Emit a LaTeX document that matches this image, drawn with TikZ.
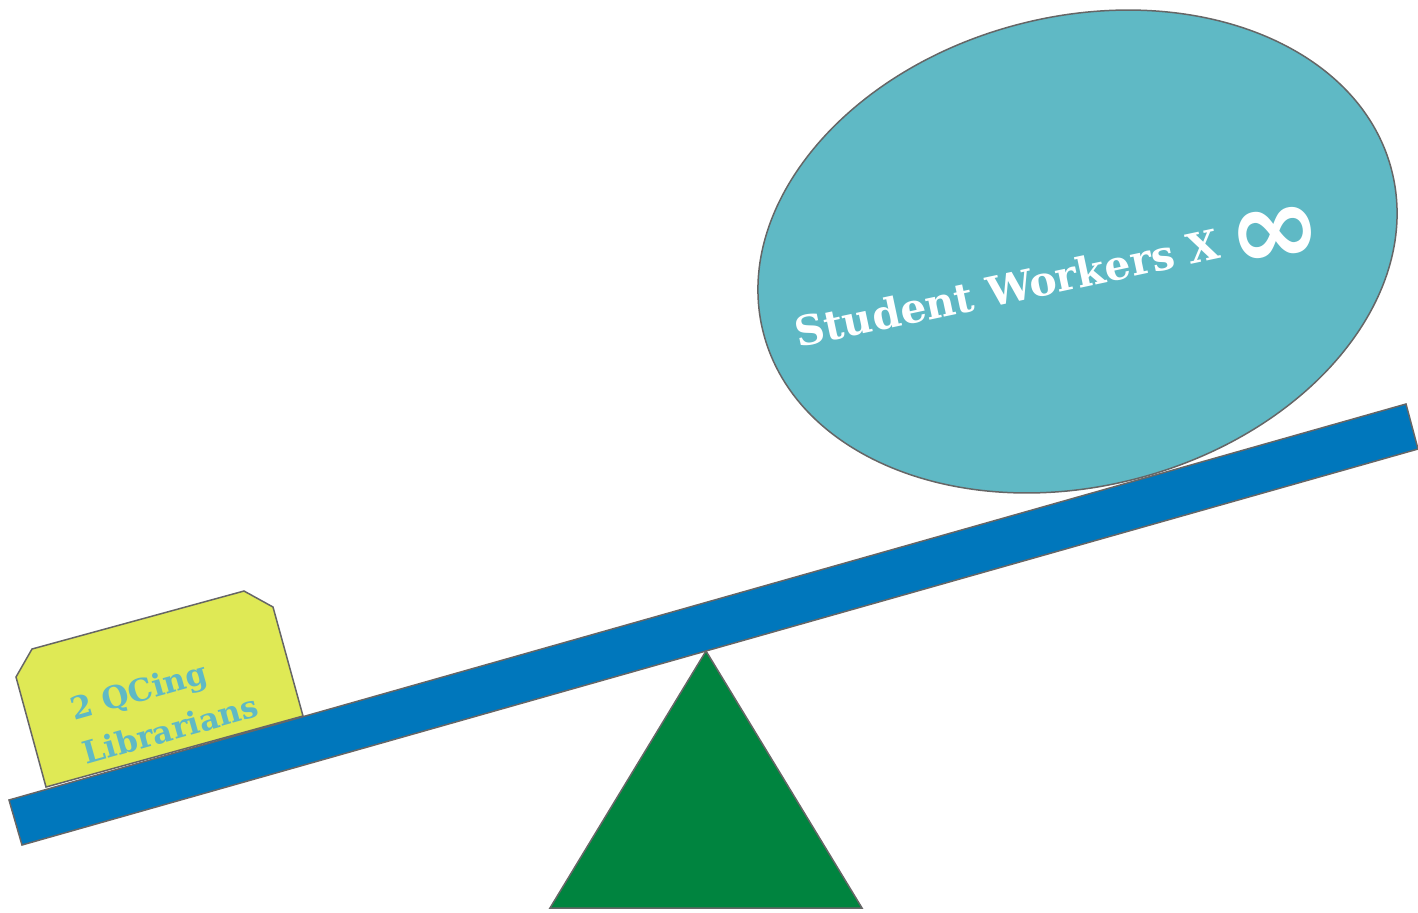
\documentclass[tikz,border=0pt]{standalone}
\usepackage{fontspec}
\setmainfont{DejaVu Serif}
\newfontfamily\symbolfont{DejaVu Sans}
\definecolor{beamblue}{HTML}{0077BC}
\definecolor{fulcrumgreen}{HTML}{00843F}
\definecolor{boxyellow}{HTML}{DFE955}
\definecolor{ballteal}{HTML}{5FB9C5}
\definecolor{edgegray}{HTML}{666666}
\begin{document}
\begin{tikzpicture}[x=0.5pt,y=-0.5pt,line width=0.75pt]
		\useasboundingbox (0,0) rectangle (1418,912);
		%student workers
		\draw[edgegray,fill=ballteal] (1077.5,251.5) ellipse[x radius=324.5,y radius=234.7,rotate=14.6];
		\node[white,rotate=12,font=\fontsize{20.5}{24}\selectfont\bfseries] (workers) at (1007,288) {Student Workers X};
		\node[white,rotate=8,font=\symbolfont\fontsize{56}{56}\selectfont\bfseries] (infinity) at (1276,238) {∞};
		%librarians
		\draw[edgegray,fill=boxyellow] (16,677) -- (32,649) -- (244,591) -- (273,607) -- (303,716) -- (46,787) -- cycle;
		\node[ballteal,rotate=15.8,align=left,inner sep=0pt,font=\fontsize{15.5}{23}\selectfont\bfseries] (librarians) at (164,707) {2 QCing\\Librarians};
		%seesaw
		\draw[edgegray,fill=fulcrumgreen] (706,651) -- (862,908) -- (550,908) -- cycle;
		\draw[edgegray,fill=beamblue] (9,800) -- (1406,404) -- (1418,449) -- (22,845) -- cycle;
		\end{tikzpicture}
\end{document}
